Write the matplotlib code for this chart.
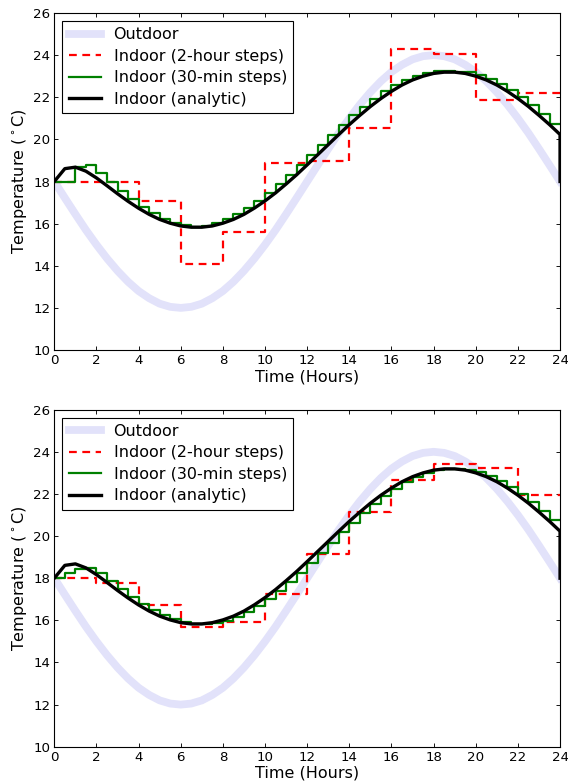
import numpy as np
import matplotlib
matplotlib.use("Agg")
import matplotlib.pyplot as plt

# time grids (hours)
hours = np.arange(0, 24.5, 0.5)
hours_2h = np.arange(0, 26, 2)

outdoor = [18.0, 17.22, 16.45, 15.70, 15.0, 14.35, 13.76, 13.24, 12.80, 12.46, 12.20, 12.05, 12.0,
           12.05, 12.20, 12.46, 12.80, 13.24, 13.76, 14.35, 15.0, 15.70, 16.45, 17.22, 18.0,
           18.78, 19.55, 20.30, 21.0, 21.65, 22.24, 22.76, 23.20, 23.54, 23.80, 23.95, 24.0,
           23.95, 23.80, 23.54, 23.20, 22.76, 22.24, 21.65, 21.0, 20.30, 19.55, 18.78, 18.0]

analytic = [18.00, 18.61, 18.68, 18.49, 18.17, 17.80, 17.42, 17.06, 16.73, 16.44, 16.20, 16.02,
            15.89, 15.83, 15.83, 15.89, 16.02, 16.20, 16.44, 16.74, 17.08, 17.46, 17.88, 18.32,
            18.79, 19.27, 19.75, 20.23, 20.70, 21.14, 21.56, 21.94, 22.28, 22.58, 22.82, 23.00,
            23.13, 23.19, 23.19, 23.13, 23.00, 22.82, 22.58, 22.28, 21.94, 21.56, 21.14, 20.70,
            20.23]
analytic_end = 18.0

# step values, one per interval
steps_2h_top = [18.0, 18.0, 17.07, 14.1, 15.58, 18.86, 18.97, 20.56, 24.31, 24.04, 21.86, 22.18]
steps_2h_bottom = [18.03, 17.76, 16.73, 15.7, 15.94, 17.24, 19.16, 21.14, 22.67, 23.43, 23.21, 21.93]

steps_30m_top = [18.0, 18.0, 18.69, 18.80, 18.41, 17.97, 17.54, 17.15, 16.80, 16.49, 16.24, 16.05,
                 15.92, 15.84, 15.89, 16.02, 16.20, 16.44, 16.74, 17.08, 17.46, 17.88, 18.32, 18.79,
                 19.27, 19.75, 20.23, 20.70, 21.14, 21.56, 21.94, 22.28, 22.58, 22.82, 23.00, 23.13,
                 23.24, 23.24, 23.22, 23.18, 23.05, 22.87, 22.63, 22.33, 21.99, 21.61, 21.19, 20.75]
steps_30m_bottom = [18.0, 18.27, 18.45, 18.48, 18.24, 17.86, 17.50, 17.13, 16.78, 16.48, 16.23, 16.04,
                    15.90, 15.83, 15.82, 15.87, 15.99, 16.17, 16.40, 16.69, 17.03, 17.41, 17.82, 18.27,
                    18.73, 19.21, 19.69, 20.17, 20.64, 21.09, 21.51, 21.90, 22.25, 22.55, 22.80, 22.99,
                    23.12, 23.19, 23.20, 23.15, 23.03, 22.86, 22.62, 22.33, 21.99, 21.62, 21.20, 20.76]

plt.rcParams.update({
    "font.size": 12,
    "axes.labelsize": "large",
    "xtick.direction": "in", "ytick.direction": "in",
    "xtick.top": True, "ytick.right": True,
    "xtick.major.size": 4, "ytick.major.size": 4,
    "axes.linewidth": 1.0,
    "legend.fancybox": False, "legend.fontsize": "large",
    "legend.edgecolor": "black", "legend.framealpha": 1,
    "legend.borderpad": 0.4, "legend.handletextpad": 0.8,
    "legend.labelspacing": 0.4,
    "mathtext.fontset": "dejavusans",
})

fig = plt.figure(figsize=(7.1, 9.775), dpi=80, facecolor="white")
panels = [
    (0.5524, steps_2h_top, steps_30m_top),
    (0.0451, steps_2h_bottom, steps_30m_bottom),
]

for bottom, red_vals, green_vals in panels:
    ax = fig.add_axes([0.0956, bottom, 0.8904, 0.431])
    ax.plot(hours, outdoor, color="#e2e2fa", lw=7, label="Outdoor")
    ax.plot(hours_2h, red_vals + red_vals[-1:], color="red", lw=2, ls=(0, (3.5, 2.5)),
            drawstyle="steps-post", label="Indoor (2-hour steps)")
    ax.plot(hours, green_vals + green_vals[-1:], color="green", lw=2,
            drawstyle="steps-post", label="Indoor (30-min steps)")
    ax.plot(np.append(hours, 24), analytic + [analytic_end], color="black", lw=3,
            label="Indoor (analytic)")
    ax.set_xlim(0, 24)
    ax.set_ylim(10, 26)
    ax.set_xticks(range(0, 25, 2))
    ax.set_yticks(range(10, 27, 2))
    ax.set_xlabel("Time (Hours)", labelpad=2)
    ax.set_ylabel("Temperature ($^\\circ$C)")
    ax.legend(loc="upper left")

fig.savefig("out.png", dpi=80, facecolor="white")
